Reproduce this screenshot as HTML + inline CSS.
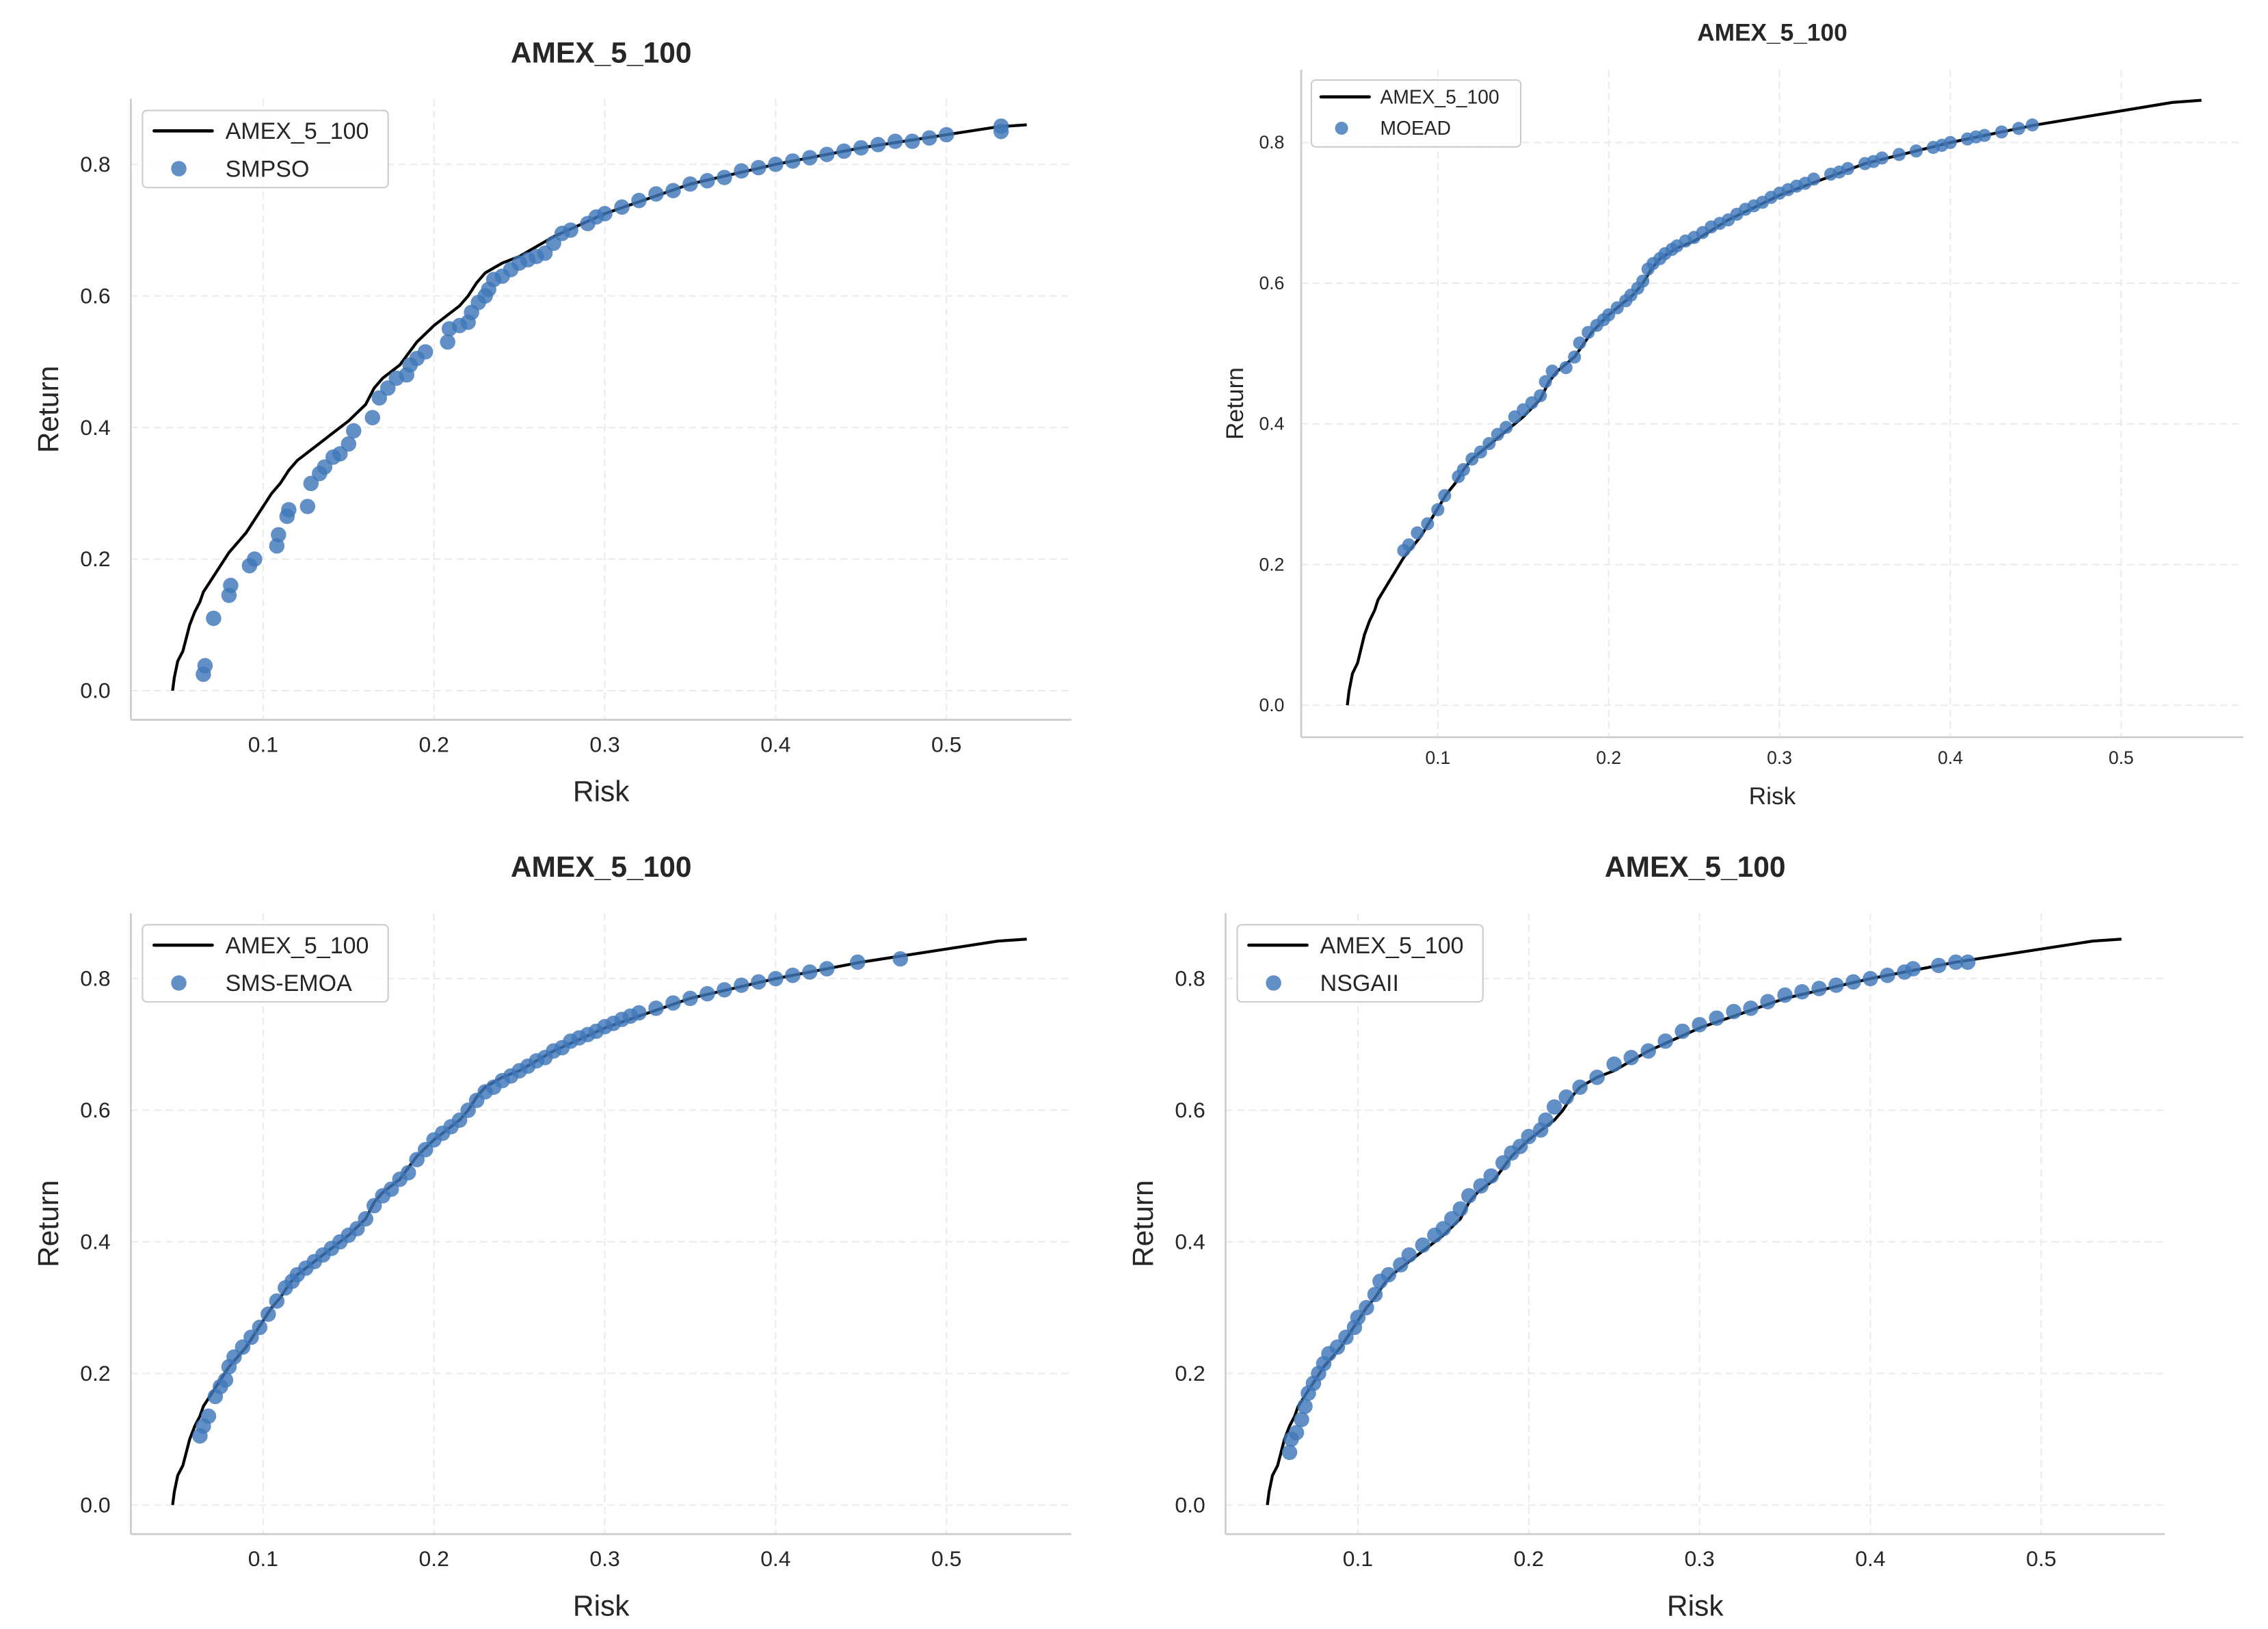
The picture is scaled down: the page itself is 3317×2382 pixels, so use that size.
<!DOCTYPE html>
<html><head><meta charset="utf-8"><style>
html,body{margin:0;padding:0;background:#fff;}
svg{display:block;font-family:"Liberation Sans",Arial,sans-serif;}
</style></head><body>
<svg id="fig" width="3317" height="2382" viewBox="0 0 1560 1120.26" xmlns="http://www.w3.org/2000/svg"></svg>
<script>
const frontierRisk = [0.047,0.048,0.05,0.053,0.055,0.057,0.06,0.063,0.065,0.07,0.075,0.08,0.085,0.09,0.1,0.105,0.11,0.115,0.12,0.13,0.14,0.15,0.16,0.165,0.17,0.18,0.19,0.2,0.21,0.215,0.22,0.225,0.23,0.24,0.25,0.27,0.3,0.35,0.4,0.45,0.5,0.53,0.547];
const frontierReturn = [0,0.02,0.045,0.06,0.08,0.1,0.12,0.135,0.15,0.17,0.19,0.21,0.225,0.24,0.28,0.3,0.315,0.335,0.35,0.37,0.39,0.41,0.435,0.46,0.475,0.495,0.53,0.555,0.575,0.585,0.6,0.62,0.635,0.65,0.66,0.69,0.725,0.77,0.8,0.825,0.845,0.857,0.86];

const smpsoRisk = [0.065,0.066,0.071,0.08,0.081,0.092,0.095,0.108,0.109,0.114,0.115,0.126,0.128,0.133,0.136,0.141,0.145,0.15,0.153,0.164,0.168,0.173,0.178,0.184,0.186,0.19,0.195,0.208,0.209,0.215,0.22,0.222,0.226,0.23,0.232,0.235,0.24,0.245,0.25,0.255,0.26,0.265,0.27,0.275,0.28,0.29,0.295,0.3,0.31,0.32,0.33,0.34,0.35,0.36,0.37,0.38,0.39,0.4,0.41,0.42,0.43,0.44,0.45,0.46,0.47,0.48,0.49,0.5,0.532,0.532];
const smpsoReturn = [0.025,0.038,0.11,0.145,0.16,0.19,0.2,0.22,0.237,0.265,0.275,0.28,0.315,0.33,0.34,0.355,0.36,0.375,0.395,0.415,0.445,0.46,0.475,0.48,0.495,0.505,0.515,0.53,0.55,0.555,0.56,0.575,0.59,0.6,0.61,0.625,0.63,0.64,0.65,0.655,0.66,0.665,0.68,0.695,0.7,0.71,0.72,0.725,0.735,0.745,0.755,0.76,0.77,0.775,0.78,0.79,0.795,0.8,0.805,0.81,0.815,0.82,0.825,0.83,0.835,0.835,0.84,0.845,0.85,0.858];

const moeadRisk = [0.08,0.083,0.088,0.094,0.1,0.104,0.112,0.115,0.12,0.125,0.13,0.135,0.14,0.145,0.15,0.155,0.16,0.163,0.167,0.175,0.18,0.183,0.188,0.193,0.197,0.2,0.205,0.21,0.213,0.217,0.22,0.223,0.226,0.23,0.233,0.237,0.24,0.245,0.25,0.255,0.26,0.265,0.27,0.275,0.28,0.285,0.29,0.295,0.3,0.305,0.31,0.315,0.32,0.33,0.335,0.34,0.35,0.355,0.36,0.37,0.38,0.39,0.395,0.4,0.41,0.415,0.42,0.43,0.44,0.448];
const moeadReturn = [0.22,0.228,0.245,0.258,0.278,0.298,0.325,0.335,0.35,0.36,0.372,0.385,0.395,0.41,0.42,0.43,0.44,0.46,0.475,0.48,0.495,0.515,0.53,0.54,0.548,0.555,0.565,0.575,0.583,0.593,0.603,0.62,0.628,0.635,0.642,0.648,0.653,0.66,0.665,0.672,0.68,0.685,0.69,0.698,0.705,0.71,0.715,0.722,0.728,0.733,0.738,0.742,0.748,0.755,0.758,0.763,0.77,0.773,0.778,0.783,0.788,0.793,0.796,0.8,0.805,0.808,0.81,0.815,0.82,0.825];

const smsRisk = [0.063,0.065,0.068,0.072,0.075,0.078,0.08,0.083,0.088,0.093,0.098,0.103,0.108,0.113,0.117,0.12,0.125,0.13,0.135,0.14,0.145,0.15,0.155,0.16,0.165,0.17,0.175,0.18,0.185,0.19,0.195,0.2,0.205,0.21,0.215,0.22,0.225,0.23,0.235,0.24,0.245,0.25,0.255,0.26,0.265,0.27,0.275,0.28,0.285,0.29,0.295,0.3,0.305,0.31,0.315,0.32,0.33,0.34,0.35,0.36,0.37,0.38,0.39,0.4,0.41,0.42,0.43,0.448,0.473];
const smsReturn = [0.105,0.12,0.135,0.165,0.18,0.19,0.21,0.225,0.24,0.255,0.27,0.29,0.31,0.33,0.34,0.35,0.36,0.37,0.38,0.39,0.4,0.41,0.42,0.435,0.455,0.47,0.48,0.495,0.505,0.525,0.54,0.555,0.565,0.575,0.585,0.6,0.615,0.628,0.635,0.645,0.652,0.66,0.667,0.675,0.68,0.69,0.695,0.705,0.71,0.715,0.72,0.727,0.732,0.738,0.743,0.748,0.755,0.763,0.77,0.777,0.783,0.79,0.795,0.8,0.805,0.81,0.815,0.825,0.83];

const nsgaRisk = [0.06,0.061,0.064,0.067,0.069,0.071,0.074,0.077,0.08,0.083,0.088,0.093,0.098,0.1,0.105,0.11,0.113,0.118,0.125,0.13,0.138,0.145,0.15,0.155,0.16,0.165,0.172,0.178,0.185,0.19,0.195,0.2,0.207,0.21,0.215,0.222,0.23,0.24,0.25,0.26,0.27,0.28,0.29,0.3,0.31,0.32,0.33,0.34,0.35,0.36,0.37,0.38,0.39,0.4,0.41,0.42,0.425,0.44,0.45,0.457];
const nsgaReturn = [0.08,0.1,0.11,0.13,0.15,0.17,0.185,0.2,0.215,0.23,0.24,0.255,0.27,0.285,0.3,0.32,0.34,0.35,0.365,0.38,0.395,0.41,0.42,0.435,0.45,0.47,0.485,0.5,0.52,0.535,0.545,0.56,0.57,0.585,0.605,0.62,0.635,0.65,0.67,0.68,0.69,0.705,0.72,0.73,0.74,0.75,0.755,0.765,0.775,0.78,0.785,0.79,0.795,0.8,0.805,0.81,0.815,0.82,0.825,0.825];

const xTicks = [0.1,0.2,0.3,0.4,0.5];
const xTickLabels = ["0.1","0.2","0.3","0.4","0.5"];
const yTicks = [0,0.2,0.4,0.6,0.8];
const yTickLabels = ["0.0","0.2","0.4","0.6","0.8"];

const svg = document.getElementById('fig');
const NS = 'http://www.w3.org/2000/svg';
function mk(tag, attrs, parent){ const e=document.createElementNS(NS,tag); for(const k in attrs) e.setAttribute(k,attrs[k]); parent.appendChild(e); return e; }

const panels = [
 {key:'smpso', name:'SMPSO', rx:smpsoRisk, ry:smpsoReturn, L:90,R:737,T:68,B:495, x1:181,x5:651, y0:475,y8:113, titleY:43, fs:1, legX:98,legY:76,legW:169,legH:53, xlY:551, ylX:40, r:5.3},
 {key:'moead', name:'MOEAD', rx:moeadRisk, ry:moeadReturn, L:895,R:1543,T:48,B:507, x1:989,x5:1459, y0:485,y8:98, titleY:28, fs:0.83, legX:902,legY:55,legW:144,legH:46, xlY:553, ylX:855, r:4.5},
 {key:'sms-emoa', name:'SMS-EMOA', rx:smsRisk, ry:smsReturn, L:90,R:737,T:628,B:1055, x1:181,x5:651, y0:1035,y8:673, titleY:603, fs:1, legX:98,legY:636,legW:169,legH:53, xlY:1111, ylX:40, r:5.3},
 {key:'nsgaii', name:'NSGAII', rx:nsgaRisk, ry:nsgaReturn, L:843,R:1489,T:628,B:1055, x1:934,x5:1404, y0:1035,y8:673, titleY:603, fs:1, legX:851,legY:636,legW:169,legH:53, xlY:1111, ylX:793, r:5.3}
];

panels.forEach(p=>{
  const g = mk('g',{},svg);
  
  
  const sx = v => p.x1 + (v-0.1)*(p.x5-p.x1)/0.4;
  const sy = v => p.y0 - v*(p.y0-p.y8)/0.8;
  const tfs = 15*p.fs;
  xTicks.forEach((t,i)=>{
    const l = mk('line',{x1:sx(t),x2:sx(t),y1:p.T,y2:p.B,stroke:'#ebebeb','stroke-width':1,'stroke-dasharray':'5,3'},g);
    
    
    const tx = mk('text',{x:sx(t),y:p.B+22*p.fs,'text-anchor':'middle','font-size':tfs,fill:'#262626'},g);
    tx.textContent = xTickLabels[i];
    
    
  });
  yTicks.forEach((t,i)=>{
    const l = mk('line',{x1:p.L,x2:p.R,y1:sy(t),y2:sy(t),stroke:'#ebebeb','stroke-width':1,'stroke-dasharray':'5,3'},g);
    
    
    const tx = mk('text',{x:p.L-14*p.fs,y:sy(t)+5*p.fs,'text-anchor':'end','font-size':tfs,fill:'#262626'},g);
    tx.textContent = yTickLabels[i];
    
    
  });
  const sl = mk('line',{x1:p.L,x2:p.L,y1:p.T,y2:p.B,stroke:'#cccccc','stroke-width':1.3},g);
  
  
  const sb = mk('line',{x1:p.L,x2:p.R,y1:p.B,y2:p.B,stroke:'#cccccc','stroke-width':1.3},g);
  
  
  let d = frontierRisk.map((v,i)=>(i?'L':'M')+sx(v).toFixed(2)+','+sy(frontierReturn[i]).toFixed(2)).join('');
  const fl = mk('path',{d:d,fill:'none',stroke:'#000','stroke-width':2,'stroke-linejoin':'round'},g);
  
  
  p.rx.forEach((v,i)=>{
    const c = mk('circle',{cx:sx(v),cy:sy(p.ry[i]),r:p.r,fill:'#3f78b9','fill-opacity':0.82},g);
    
    
  });
  const ti = mk('text',{x:(p.L+p.R)/2,y:p.titleY,'text-anchor':'middle','font-size':20*p.fs,'font-weight':'bold',fill:'#262626'},g);
  ti.textContent='AMEX_5_100';
  
  
  const xl = mk('text',{x:(p.L+p.R)/2,y:p.xlY,'text-anchor':'middle','font-size':20*p.fs,fill:'#262626'},g);
  xl.textContent='Risk';
  
  
  const yl = mk('text',{x:p.ylX,y:(p.T+p.B)/2,'text-anchor':'middle','font-size':20*p.fs,fill:'#262626',transform:'rotate(-90 '+p.ylX+' '+(p.T+p.B)/2+')'},g);
  yl.textContent='Return';
  
  
  const lg = mk('g',{},g);
  
  
  mk('rect',{x:p.legX,y:p.legY,width:p.legW,height:p.legH,rx:3,fill:'#fff','fill-opacity':0.85,stroke:'#cccccc','stroke-width':1},lg);
  const f=p.fs;
  const le1 = mk('line',{x1:p.legX+8*f,x2:p.legX+48*f,y1:p.legY+14*f,y2:p.legY+14*f,stroke:'#000','stroke-width':2.2,'stroke-linecap':'round'},lg);
  
  
  const t1 = mk('text',{x:p.legX+57*f,y:p.legY+19.5*f,'font-size':16*f,fill:'#262626'},lg);
  t1.textContent='AMEX_5_100';
  
  
  const ms = mk('circle',{cx:p.legX+25*f,cy:p.legY+40*f,r:p.r,fill:'#3f78b9','fill-opacity':0.82},lg);
  
  
  const t2 = mk('text',{x:p.legX+57*f,y:p.legY+45.5*f,'font-size':16*f,fill:'#262626'},lg);
  t2.textContent=p.name;
  
  
});
</script>
</body></html>
